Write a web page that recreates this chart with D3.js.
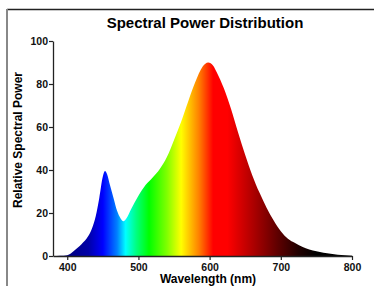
<!DOCTYPE html>
<html>
<head>
<meta charset="utf-8">
<script src="https://cdn.jsdelivr.net/npm/d3@7"></script>
<style>
  body { margin: 0; background: #fff; }
  svg { display: block; font-family: "Liberation Sans", Arial, sans-serif; }
</style>
</head>
<body>
<div id="chart"></div>
<script>
// spectrum
var wavelengths = [380, 390, 400, 405, 410, 420, 430, 435, 440, 445, 450, 453, 456, 460, 465, 470, 475, 479, 483, 490,
                   500, 510, 520, 530, 540, 550, 560, 570, 580, 590, 598, 605, 610, 620, 630, 640, 650, 660, 670, 680,
                   690, 700, 710, 720, 730, 740, 750, 760, 770, 780, 790, 800];
var power = [0, 0.1, 0.4, 1.2, 2.6, 5.5, 9.5, 13, 18.5, 27, 37, 39.5, 38, 33, 27, 21, 17.5, 16.2, 17.5, 22,
             28, 33, 36.5, 40.5, 46, 54, 62.5, 72, 81, 88, 90, 88.5, 85.5, 78, 68.5, 57.5, 47, 37.5, 29.5, 22.5,
             16.5, 11.5, 8, 6, 4.3, 3, 2.2, 1.5, 1, 0.6, 0.3, 0.1];

// colour bands of the fill (by wavelength)
var stopWavelengths = [400, 430, 450, 470, 482, 497, 515, 540, 560, 585, 605, 625, 660, 695, 725, 750];
var stopColors = ["#000080", "#0000a8", "#0000ff", "#0080ff", "#00ffff", "#00ff80", "#00ff00", "#80ff00",
                  "#ffff00", "#ff8000", "#ff0000", "#ff0000", "#b00000", "#600000", "#200000", "#000000"];

var xTicks = [400, 500, 600, 700, 800];
var yTicks = [0, 20, 40, 60, 80, 100];

var width = 374,
    height = 286;

var svg = d3.select("#chart").append("svg")
    .attr("width", width)
    .attr("height", height);

// frame lines
svg.append("line")
    .attr("x1", 7).attr("y1", 9.5).attr("x2", width).attr("y2", 9.5)
    .attr("stroke", "#222").attr("stroke-width", 1.5);
svg.append("line")
    .attr("x1", 7).attr("y1", 9).attr("x2", 7).attr("y2", height)
    .attr("stroke", "#888").attr("stroke-width", 2);

var x = d3.scaleLinear()
    .domain([380, 800])
    .range([53, 352]);

var y = d3.scaleLinear()
    .domain([0, 100])
    .range([256, 41]);

var defs = svg.append("defs");
var grad = defs.append("linearGradient")
    .attr("id", "spectrum")
    .attr("gradientUnits", "userSpaceOnUse")
    .attr("x1", x(380)).attr("x2", x(800))
    .attr("y1", 0).attr("y2", 0);

grad.selectAll("stop")
    .data(stopWavelengths)
    .enter().append("stop")
    .attr("offset", function(d) { return (x(d) - x(380)) / (x(800) - x(380)); })
    .attr("stop-color", function(d, i) { return stopColors[i]; });

var area = d3.area()
    .x(function(d, i) { return x(wavelengths[i]); })
    .y0(y(0))
    .y1(function(d) { return y(d); })
    .curve(d3.curveMonotoneX);

svg.append("path")
    .datum(power)
    .attr("d", area)
    .attr("fill", "url(#spectrum)");

// axes
var xAxis = svg.append("g")
    .attr("transform", "translate(0," + y(0) + ")")
    .call(d3.axisBottom(x).tickValues(xTicks).tickSize(4).tickSizeOuter(0));

var yAxis = svg.append("g")
    .attr("transform", "translate(" + x(380) + ",0)")
    .call(d3.axisLeft(y).tickValues(yTicks).tickSize(4).tickSizeOuter(0));

[xAxis, yAxis].forEach(function(g) {
    g.select(".domain").attr("stroke", "#222").attr("stroke-width", 1.3);
    g.selectAll(".tick line").attr("stroke", "#222").attr("stroke-width", 1.2);
    g.selectAll("text")
        .attr("fill", "#111")
        .style("font-size", "10.5px")
        .style("font-weight", "bold")
        .style("font-family", "'Liberation Sans', Arial, sans-serif");
});
xAxis.selectAll("text").attr("dy", "0.85em").attr("y", 6);
yAxis.selectAll("text").attr("x", -5);

// titles
svg.append("text")
    .attr("x", 205)
    .attr("y", 28)
    .attr("text-anchor", "middle")
    .style("font-size", "15px")
    .style("font-weight", "bold")
    .text("Spectral Power Distribution");

svg.append("text")
    .attr("transform", "translate(22,140) rotate(-90)")
    .attr("text-anchor", "middle")
    .style("font-size", "12px")
    .style("font-weight", "bold")
    .text("Relative Spectral Power");

svg.append("text")
    .attr("x", 208)
    .attr("y", 283)
    .attr("text-anchor", "middle")
    .style("font-size", "12px")
    .style("font-weight", "bold")
    .text("Wavelength (nm)");
</script>
</body>
</html>
